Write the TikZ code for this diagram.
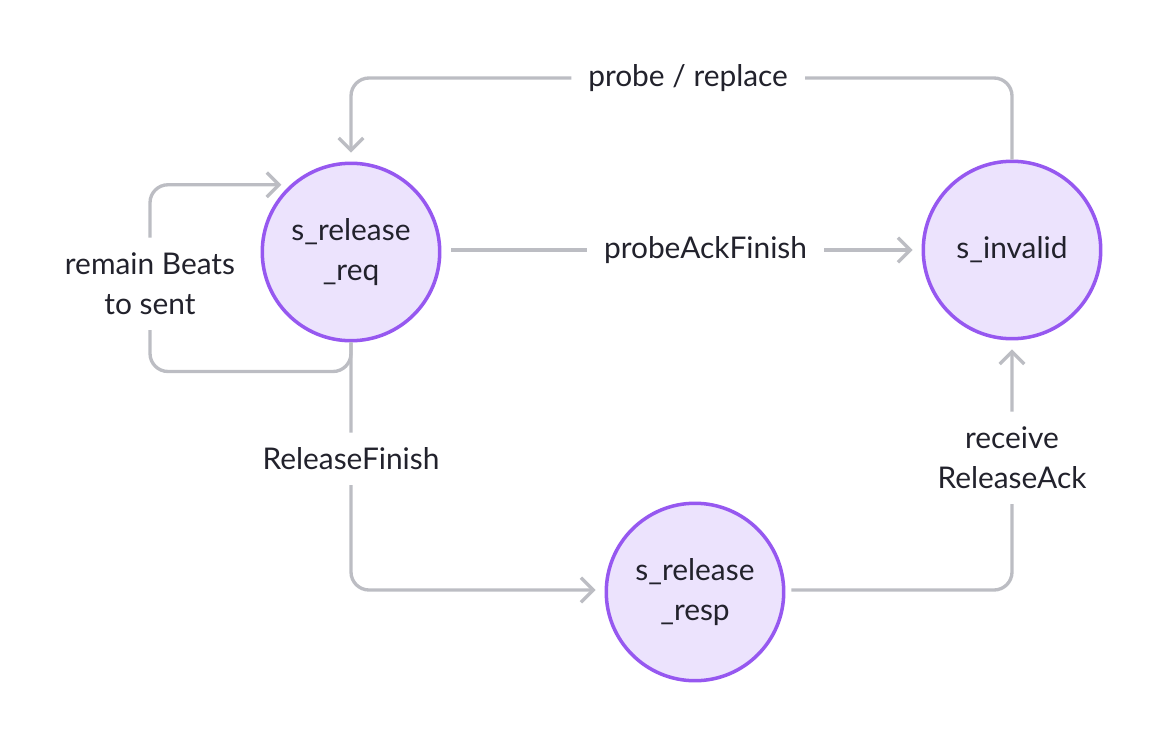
\documentclass[tikz,border=0pt]{standalone}
\usepackage{fontspec}
\setmainfont{Lato}
\usetikzlibrary{arrows.meta}

\begin{document}
\begin{tikzpicture}[x=0.02cm,y=-0.02cm]
    % Define state colors
    \definecolor{statefill}{RGB}{236, 227, 253}
    \definecolor{stateline}{RGB}{150, 88, 240}
    \definecolor{edgegrey}{RGB}{188, 189, 195}
    \definecolor{textdark}{RGB}{34, 34, 44}

    \tikzset{
        state/.style={circle, draw=stateline, fill=statefill, line width=2pt,
            minimum size=3.55cm, inner sep=0pt, align=center, text=textdark,
            font=\fontsize{17}{23}\selectfont},
        edge/.style={draw=edgegrey, line width=1.9pt, rounded corners=0.36cm,
            -{Straight Barb[length=7pt, width=14pt, line width=1.9pt]}},
        lbl/.style={fill=white, inner xsep=0.34cm, inner ysep=0.3cm, align=center,
            text=textdark, font=\fontsize{17}{23}\selectfont}
    }

    \useasboundingbox (0,0) rectangle (1154,730);

    % Draw states
    \node[state] (req) at (351,252) {s\_release\\\_req};
    \node[state] (inv) at (1012,250) {s\_invalid};
    \node[state] (resp) at (695,592) {s\_release\\\_resp};

    % Draw transitions
    \draw[edge, shorten >=0.18cm] (inv.north) -- (inv.north |- 0,78)
        -- node[lbl, pos=0.49] {probe / replace} (req.north |- 0,78) -- (req.north);
    \draw[edge, shorten <=0.2cm, shorten >=0.18cm] (req.east |- inv.west)
        -- node[lbl, pos=0.55] {probeAckFinish} (inv.west);
    \coordinate (loopin) at ([xshift=-0.18cm]req.132);
    \draw[edge] (req.south) -- ++(0,29)
        -| node[lbl, pos=0.735] {remain Beats\\to sent} (loopin -| 150,0) -- (loopin);
    \draw[edge, shorten >=0.18cm] (req.south)
        |- node[lbl, pos=0.235] {ReleaseFinish} (resp.west |- 0,590);
    \draw[edge, shorten <=0.12cm, shorten >=0.18cm] (resp.east |- 0,590)
        -| node[lbl, pos=0.765] {receive\\ReleaseAck} (inv.south);

\end{tikzpicture}
\end{document}
